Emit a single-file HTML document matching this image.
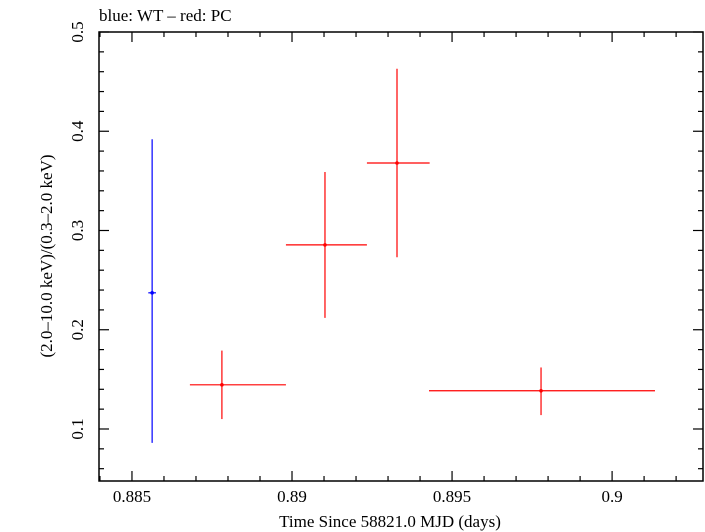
<!DOCTYPE html>
<html><head><meta charset="utf-8"><style>
body{margin:0;background:#fff}
svg{display:block;font-family:"Liberation Serif",serif}
</style></head><body>
<svg id="c" width="705" height="532" xmlns="http://www.w3.org/2000/svg">
<text x="99" y="21" font-size="17">blue: WT – red: PC</text>
<rect x="99" y="32" width="604" height="449" fill="none" stroke="#000" stroke-width="1.5"/>
<g id="ticks"></g><g id="marks"></g>
<text x="390" y="527" font-size="17" text-anchor="middle">Time Since 58821.0 MJD (days)</text>
<text transform="translate(52,256) rotate(-90)" font-size="17" text-anchor="middle">(2.0–10.0 keV)/(0.3–2.0 keV)</text>
</svg>
<script>
const xTicks=[0.885,0.89,0.895,0.9];
const xTickLabels=["0.885","0.89","0.895","0.9"];
const yTicks=[0.1,0.2,0.3,0.4,0.5];
const yTickLabels=["0.1","0.2","0.3","0.4","0.5"];
const seriesColor=["blue","red","red","red","red"];
const xVal=[0.88563,0.88781,0.89103,0.89328,0.89778];
const xLo=[0.88551,0.88681,0.88981,0.89234,0.89428];
const xHi=[0.88575,0.88981,0.89234,0.8943,0.90134];
const yVal=[0.2372,0.1445,0.2855,0.368,0.1385];
const yLo=[0.086,0.110,0.212,0.273,0.114];
const yHi=[0.392,0.179,0.359,0.463,0.162];
const X0=99,X1=703,Y0=481,Y1=32,xmin=0.88397,xmax=0.90284,ymin=0.0476,ymax=0.5;
const sx=v=>X0+(v-xmin)/(xmax-xmin)*(X1-X0);
const sy=v=>Y0-(v-ymin)/(ymax-ymin)*(Y0-Y1);
const NS="http://www.w3.org/2000/svg";
const tg=document.getElementById('ticks'),mg=document.getElementById('marks');
function ln(g,x1,y1,x2,y2,c,w){const l=document.createElementNS(NS,'line');l.setAttribute('x1',x1);l.setAttribute('y1',y1);l.setAttribute('x2',x2);l.setAttribute('y2',y2);l.setAttribute('stroke',c);l.setAttribute('stroke-width',w);g.appendChild(l);return l;}
for(let i=0;i<=19;i++){const v=0.884+i*0.001;if(v<xmin||v>xmax)continue;const x=sx(v);const maj=Math.abs(v*1000%5)<0.01||Math.abs(v*1000%5-5)<0.01;const L=maj?10:5;
const a=ln(tg,x,Y0,x,Y0-L,'#000',1.2);
const b=ln(tg,x,Y1,x,Y1+L,'#000',1.2);}
xTicks.forEach((v,i)=>{const t=document.createElementNS(NS,'text');t.setAttribute('x',sx(v));t.setAttribute('y',502);t.setAttribute('font-size',17);t.setAttribute('text-anchor','middle');t.textContent=xTickLabels[i];

tg.appendChild(t);});
for(let i=3;i<=25;i++){const v=i*0.02;if(v<ymin||v>ymax+1e-9)continue;const y=sy(v);const maj=(i%5===0);const L=maj?10:5;
const a=ln(tg,X0,y,X0+L,y,'#000',1.2);
const b=ln(tg,X1,y,X1-L,y,'#000',1.2);}
yTicks.forEach((v,i)=>{const t=document.createElementNS(NS,'text');t.setAttribute('transform',`translate(83,${sy(v)}) rotate(-90)`);t.setAttribute('font-size',17);t.setAttribute('text-anchor','middle');t.textContent=yTickLabels[i];

tg.appendChild(t);});
xVal.forEach((v,i)=>{const c=seriesColor[i];const g=document.createElementNS(NS,'g');


ln(g,sx(xLo[i]),sy(yVal[i]),sx(xHi[i]),sy(yVal[i]),c,1.2);
ln(g,sx(v),sy(yLo[i]),sx(v),sy(yHi[i]),c,1.2);
const d=document.createElementNS(NS,'circle');d.setAttribute('cx',sx(v));d.setAttribute('cy',sy(yVal[i]));d.setAttribute('r',1.8);d.setAttribute('fill',c);g.appendChild(d);
mg.appendChild(g);});
</script>
</body></html>
